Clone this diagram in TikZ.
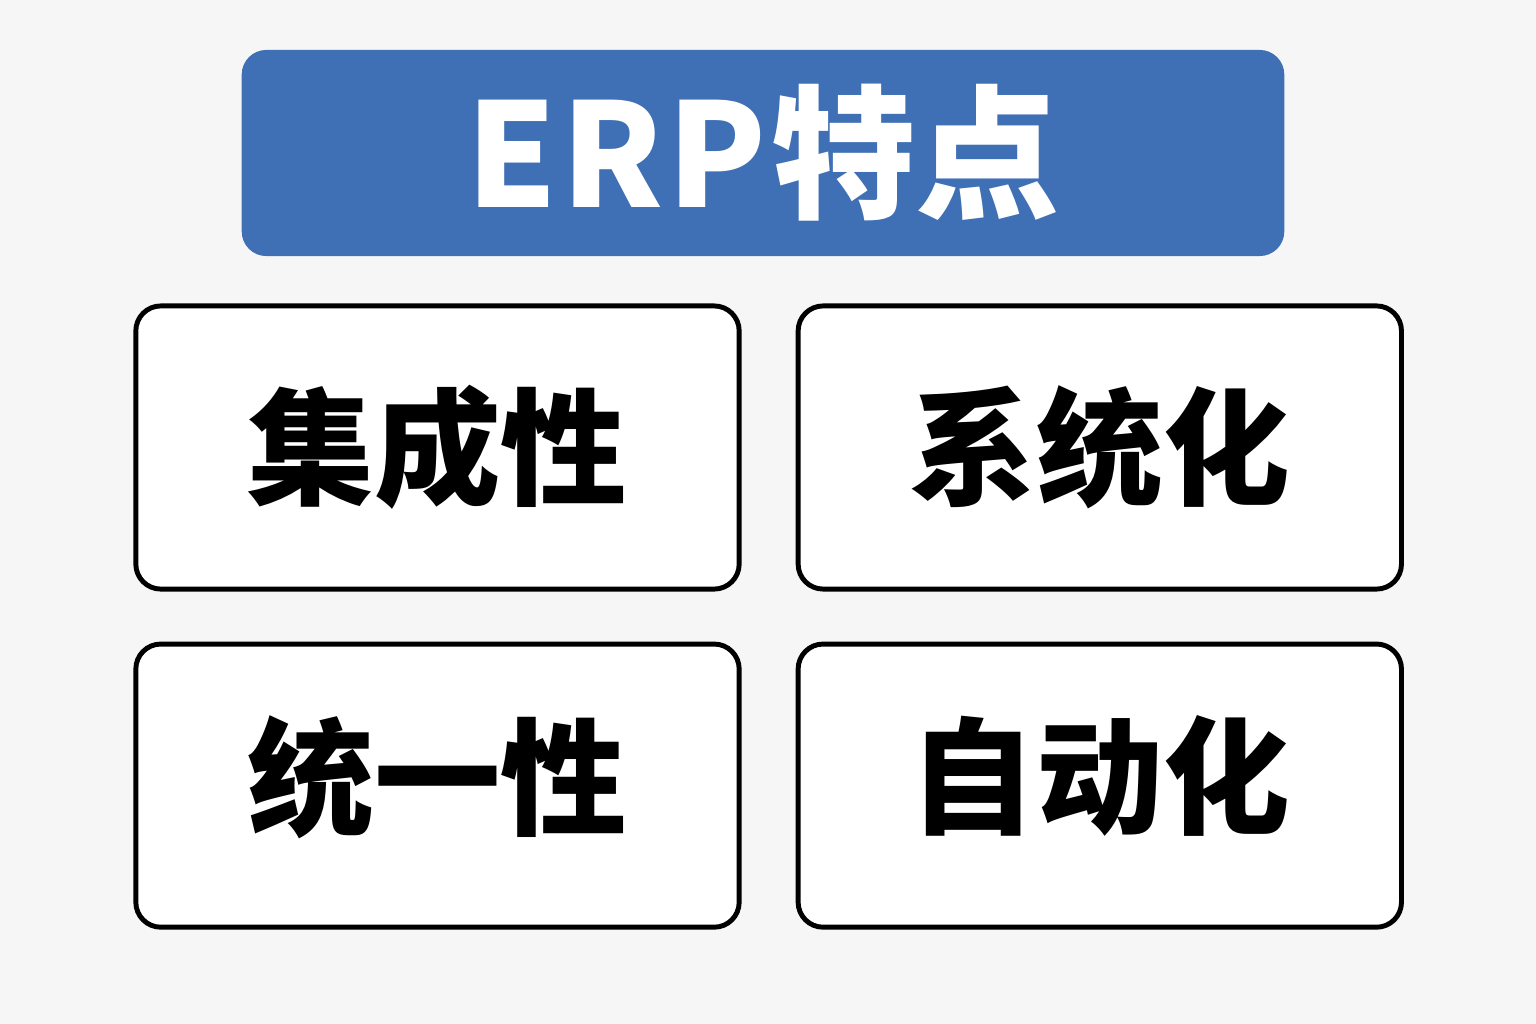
\documentclass[tikz,border=0pt]{standalone}
\usepackage{fontspec}
\usepackage{tikz}
\usetikzlibrary{positioning}
\newfontfamily\cjk{Noto Sans CJK SC}[BoldFont={Noto Sans CJK SC Black}]
\definecolor{erpblue}{HTML}{3F6FB5}
\definecolor{erpbg}{HTML}{F6F6F6}
\newcommand{\up}[1]{#1\rule[-0.31cm]{0pt}{0.1pt}}

\begin{document}
\begin{tikzpicture}[x=0.01cm, y=-0.01cm,
  title/.style={rectangle, rounded corners=7pt, fill=erpblue, text=white, minimum width=10.42cm, minimum height=2.06cm, font=\cjk\bfseries\fontsize{41pt}{44pt}\selectfont},
  feat/.style={rectangle, rounded corners=0.25cm, draw=black, line width=1.4pt, fill=white, minimum width=6.03cm, minimum height=2.83cm, font=\cjk\bfseries\fontsize{36pt}{38pt}\selectfont}]
\fill[erpbg] (0,0) rectangle (1536,1024);
\useasboundingbox (0,0) rectangle (1536,1024);
\node[title] (top) at (763,153) {E\kern1.2pt R\kern1.2pt P\kern1.2pt 特点};
\node[feat] (jc) at (437.5,447.5) {集成性};
\node[feat, right=0.54cm of jc] (xt) {系统化};
\node[feat, below=0.50cm of jc] (ty) {\up{统一性}};
\node[feat, right=0.54cm of ty] (zd) {\up{自动化}};
\end{tikzpicture}
\end{document}
